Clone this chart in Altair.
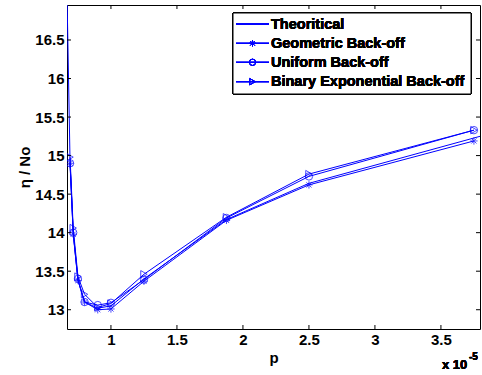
import altair as alt
import pandas as pd

# ---- data (p in units of 1e-5) ----
p_marked = [0.69, 0.714, 0.75, 0.8, 0.9, 1.0, 1.25, 1.875, 2.5, 3.75]
geometric = [14.90, 13.98, 13.38, 13.10, 13.00, 13.01, 13.37, 14.16, 14.62, 15.19]
uniform = [14.90, 14.00, 13.40, 13.10, 13.06, 13.09, 13.39, 14.19, 14.73, 15.33]
binary = [14.98, 14.06, 13.43, 13.20, 13.03, 13.08, 13.46, 14.20, 14.76, 15.33]

p_theory = [0.667, 0.69, 0.714, 0.75, 0.8, 0.9, 1.0, 1.25, 1.875, 2.5, 3.796]
theory = [17.10, 14.93, 14.00, 13.38, 13.10, 13.02, 13.05, 13.40, 14.17, 14.64, 15.25]

names = ["Theoritical", "Geometric Back-off", "Uniform Back-off", "Binary Exponential Back-off"]
x_ticks = [1, 1.5, 2, 2.5, 3, 3.5]
y_ticks = [13, 13.5, 14, 14.5, 15, 15.5, 16, 16.5]

BLUE = "#0000ff"
FONT = "Liberation Sans"
W, H = 413, 324
ASTER = "M-1,0L1,0M0,-1L0,1M-0.7,-0.7L0.7,0.7M-0.7,0.7L0.7,-0.7"

rows = []
for name, vals in zip(names[1:], [geometric, uniform, binary]):
    for p, v in zip(p_marked, vals):
        rows.append({"p": p, "v": v, "series": name})
df = pd.DataFrame(rows)
df_th = pd.DataFrame({"p": p_theory, "v": theory})

xs = alt.Scale(domain=[0.667, 3.796], nice=False, zero=False)
ys = alt.Scale(domain=[12.75, 16.954], nice=False, zero=False)

xax = alt.Axis(values=x_ticks, format="~g", ticks=False, domain=False, grid=False,
               labelFont=FONT, labelFontWeight="bold", labelFontSize=15, labelColor="black",
               labelPadding=3, title="p", titleFont=FONT, titleFontWeight="bold",
               titleFontSize=15, titleColor="black", titlePadding=3)
yax = alt.Axis(values=y_ticks, format="~g", ticks=False, domain=False, grid=False,
               labelFont=FONT, labelFontWeight="bold", labelFontSize=15, labelColor="black",
               labelPadding=3, title="η / No", titleFont=FONT, titleFontWeight="bold",
               titleFontSize=15, titleColor="black", titlePadding=2)

th_line = alt.Chart(df_th).mark_line(color=BLUE, strokeWidth=1, clip=True).encode(
    x=alt.X("p:Q", scale=xs, axis=xax, title="p"),
    y=alt.Y("v:Q", scale=ys, axis=yax, title="η / No"),
)

lines = alt.Chart(df).mark_line(color=BLUE, strokeWidth=1, clip=True).encode(
    x=alt.X("p:Q"),
    y=alt.Y("v:Q"),
    detail="series:N",
)

points = alt.Chart(df).mark_point(color=BLUE, filled=False, strokeWidth=1, size=55, clip=True).encode(
    x=alt.X("p:Q"),
    y=alt.Y("v:Q"),
    shape=alt.Shape("series:N", scale=alt.Scale(domain=names[1:], range=[ASTER, "circle", "triangle-right"]),
                    legend=None),
)

# inward ticks on all four sides
dx = pd.DataFrame({"p": x_ticks})
dy = pd.DataFrame({"v": y_ticks})
tk = []
tk.append(alt.Chart(dx).mark_rule(color="black").encode(x=alt.X("p:Q"), y=alt.value(H), y2=alt.value(H - 4)))
tk.append(alt.Chart(dx).mark_rule(color="black").encode(x=alt.X("p:Q"), y=alt.value(0), y2=alt.value(4)))
tk.append(alt.Chart(dy).mark_rule(color="black").encode(y=alt.Y("v:Q"), x=alt.value(0), x2=alt.value(4)))
tk.append(alt.Chart(dy).mark_rule(color="black").encode(y=alt.Y("v:Q"), x=alt.value(W), x2=alt.value(W - 4)))

# legend (drawn by hand, MATLAB style)
leg = []
leg.append(alt.Chart(dx).mark_rect(fill="white", stroke="black", strokeWidth=1).encode(
    x=alt.value(166), x2=alt.value(404), y=alt.value(8), y2=alt.value(89)))
row_y = [19, 38.3, 57.3, 76.7]
leg_shapes = [None, ASTER, "circle", "triangle-right"]
for name, ry, shp in zip(names, row_y, leg_shapes):
    leg.append(alt.Chart(dx).mark_rule(color=BLUE, strokeWidth=1).encode(
        x=alt.value(169), x2=alt.value(202), y=alt.value(ry)))
    if shp is not None:
        leg.append(alt.Chart(dx).mark_point(color=BLUE, filled=False, strokeWidth=1, size=40, shape=shp).encode(
            x=alt.value(185.5), y=alt.value(ry)))
    leg.append(alt.Chart(dx).mark_text(text=name, font=FONT, fontWeight="bold", fontSize=14.5,
                                        color="black", align="left", baseline="middle").encode(
        x=alt.value(204), y=alt.value(ry + 0.5)))

# "x 10^-5" exponent label
expo = [
    alt.Chart(dx).mark_text(text="x 10", font=FONT, fontWeight="bold", fontSize=13, color="black",
                            align="left", baseline="middle").encode(x=alt.value(375), y=alt.value(360)),
    alt.Chart(dx).mark_text(text="-5", font=FONT, fontWeight="bold", fontSize=10, color="black",
                            align="left", baseline="middle").encode(x=alt.value(402), y=alt.value(352)),
]

chart = alt.layer(th_line, lines, points, *tk, *leg, *expo).properties(
    width=W, height=H,
    autosize=alt.AutoSizeParams(type="none"),
    padding={"left": 67, "top": 5, "right": 2, "bottom": 46},
    background="white",
).configure_view(stroke="black", strokeWidth=1)

chart.save("out.html", embed_options={"renderer": "svg", "actions": False})
